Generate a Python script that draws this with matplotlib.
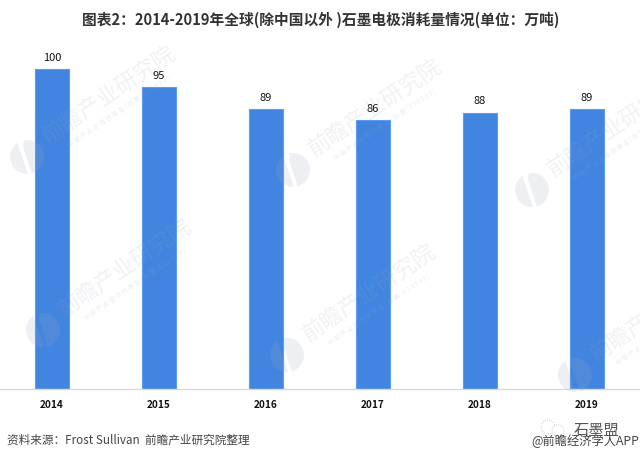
import matplotlib
matplotlib.use("Agg")
import matplotlib.pyplot as plt
from matplotlib.patches import Circle, Polygon

plt.rcParams['font.family'] = ['Noto Sans CJK SC', 'DejaVu Sans']

years = ['2014', '2015', '2016', '2017', '2018', '2019']
consumption = [100, 95, 89, 86, 88, 89]
title = '图表2：2014-2019年全球(除中国以外 )石墨电极消耗量情况(单位：万吨)'
source = '资料来源：Frost Sullivan  前瞻产业研究院整理'
wm_main = '前瞻产业研究院'
wm_sub = '中 国 产 业 咨 询 领 导 者 ( 股 票 : 8 3 9 5 9 9 )'
# logo centres of the watermark, in image pixels
wm_logos = [(27, 157), (293, 170), (532, 190), (43, 330), (287, 355), (575, 375)]
logo_left = [(-20, -20), (-9, -20), (-9, -12), (2, 20), (-20, 20)]
logo_right = [(-3, -20), (20, -20), (20, 20), (6, 20), (-4, -10)]

W, H = 640, 459
fig = plt.figure(figsize=(W / 100, H / 100), dpi=100)
ax = fig.add_axes([0, (H - 389) / H, 1, (389 - 40) / H])

x = list(range(len(years)))
ax.bar(x, consumption, width=0.318, color='#4285e0', edgecolor='#5c9bf0', linewidth=0.8)
for i, v in enumerate(consumption):
    ax.annotate(str(v), (i, v), xytext=(0, 4.5), textcoords='offset points',
                ha='center', va='bottom', fontsize=8, color='#111111')

# axis does not start at zero
ax.set_xlim(-52 / 107, (640 - 52) / 107)
ax.set_ylim(11, 100 + 29.5 / 3.59)
ax.set_xticks(x)
ax.set_xticklabels(years, fontsize=7.2, fontweight='bold', color='#111111')
ax.tick_params(axis='x', length=0, pad=8)
ax.set_yticks([])
for s in ['top', 'left', 'right']:
    ax.spines[s].set_visible(False)
ax.spines['bottom'].set_color('#d9d9d9')
ax.spines['bottom'].set_linewidth(1.0)


def px(xp, yp):
    return xp / W, 1 - yp / H


# watermark, drawn over the bars
for lx, ly in wm_logos:
    for shape in (logo_left, logo_right):
        pts = [(lx + dx, H - (ly + dy)) for dx, dy in shape]
        clip = Polygon(pts, transform=None)
        c = Circle((lx, H - ly), 17, transform=None, fc='#9aa5b8', ec='none', alpha=0.17, zorder=5)
        fig.add_artist(c)
        c.set_clip_path(clip)
    fig.text(*px(lx + 82, ly - 62), wm_main, fontsize=16, rotation=34, rotation_mode='anchor',
             ha='center', va='center', color='#9aa5b8', alpha=0.15, zorder=5)
    fig.text(*px(lx + 93, ly - 45), wm_sub, fontsize=4.5, rotation=34, rotation_mode='anchor',
             ha='center', va='center', color='#9aa5b8', alpha=0.18, zorder=5)

fig.text(*px(321, 20), title, fontsize=10.6, fontweight='bold', color='#333333', ha='center', va='center')
fig.text(*px(7, 440), source, fontsize=8.4, color='#444444', ha='left', va='center')

# wechat mark in the corner
fig.add_artist(Circle((548, H - 427), 7, transform=None, fc='white', ec='#bbbbbb', lw=0.6, ls=':', zorder=7))
fig.add_artist(Circle((558, H - 431), 6, transform=None, fc='white', ec='#bbbbbb', lw=0.6, ls=':', zorder=7))
fig.text(*px(596, 431), '石墨盟', fontsize=11, color='#555555', ha='center', va='center', zorder=8)
fig.text(*px(639, 441), '@前瞻经济学人APP', fontsize=8.8, color='#444444', ha='right', va='center', zorder=9)

fig.savefig('out.png', dpi=100)
